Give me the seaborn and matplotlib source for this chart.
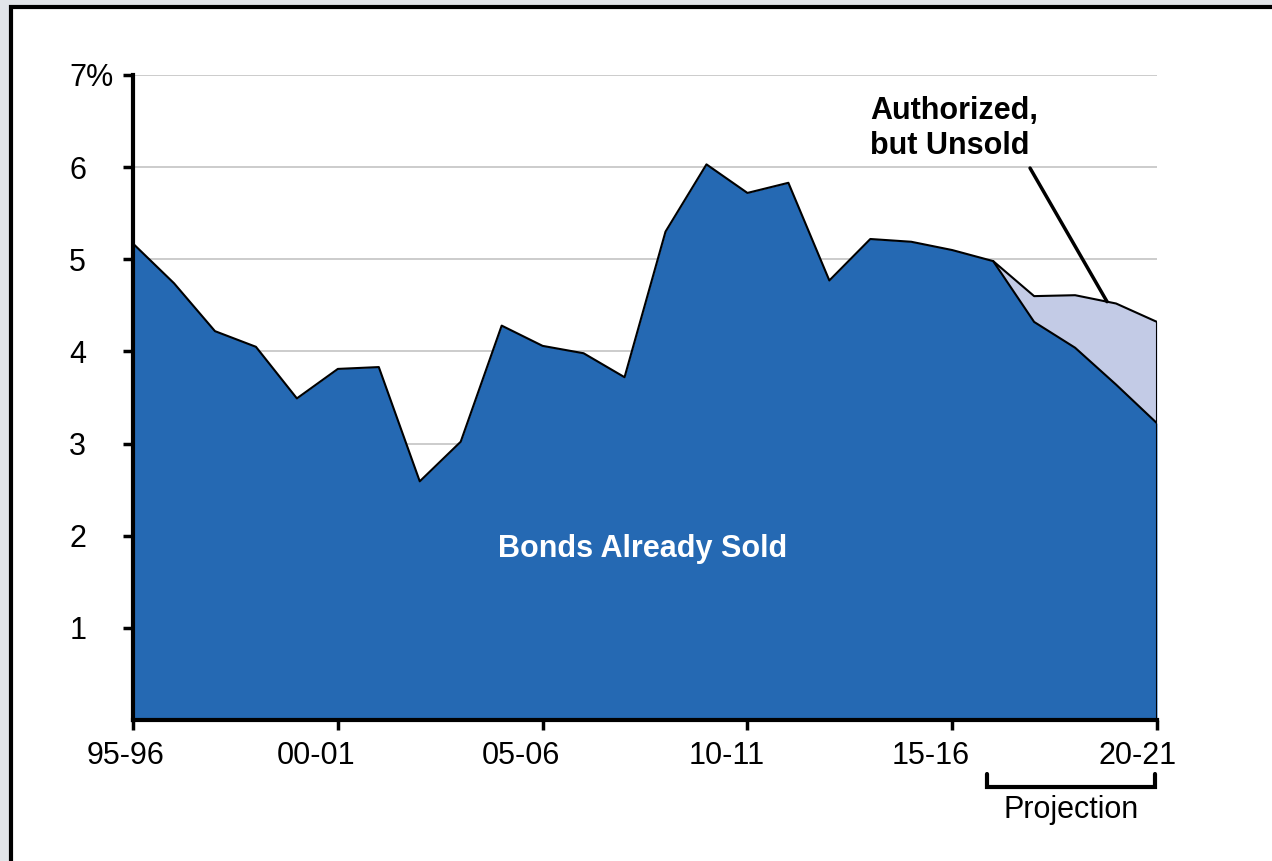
import numpy as np
import pandas as pd
import matplotlib
matplotlib.use("Agg")
import matplotlib.pyplot as plt
import matplotlib.transforms as mtrans
import seaborn as sns
from matplotlib.patches import Rectangle

# data (percent), fiscal years 95-96 .. 20-21
years = list(range(1995, 2021))
sold = [5.17, 4.74, 4.22, 4.05, 3.49, 3.81, 3.83, 2.59, 3.02, 4.28,
        4.06, 3.98, 3.72, 5.30, 6.03, 5.72, 5.83, 4.77, 5.22, 5.19,
        5.10, 4.98, 4.32, 4.04, 3.64, 3.22]
unsold = [0, 0, 0, 0, 0, 0, 0, 0, 0, 0,
          0, 0, 0, 0, 0, 0, 0, 0, 0, 0,
          0, 0, 0.28, 0.57, 0.88, 1.10]
tick_years = [1995, 2000, 2005, 2010, 2015, 2020]
tick_labels = ['95-96', '00-01', '05-06', '10-11', '15-16', '20-21']

df = pd.DataFrame({'Year': years, 'Sold': sold, 'Unsold': unsold})
df['Total'] = df['Sold'] + df['Unsold']
proj = df[df['Year'] >= 2016]

sns.set_style("white")
plt.rcParams['font.family'] = ['Liberation Sans', 'DejaVu Sans']
FS = 22

fig = plt.figure(figsize=(12.72, 8.61), dpi=100)
fig.patch.set_facecolor('#e2e5e9')
# white card with black frame
fig.patches.append(Rectangle((0.0085, -0.1), 1.2, 1.092, transform=fig.transFigure,
                             facecolor='white', edgecolor='black', linewidth=3, zorder=-10))

ax = fig.add_axes([0.1046, 0.1638, 0.805, 0.7491])
ax.set_facecolor('none')

# gridlines
for g in range(1, 8):
    ax.axhline(g, color='#c8c8c8', lw=1.3, zorder=0)

ax.fill_between(proj['Year'], proj['Sold'], proj['Total'], color='#c3cbe6', zorder=2, lw=0)
ax.fill_between(df['Year'], 0, df['Sold'], color='#2569b3', zorder=3, lw=0)
sns.lineplot(data=proj, x='Year', y='Total', color='black', lw=1.5, ax=ax, zorder=4)
sns.lineplot(data=df, x='Year', y='Sold', color='black', lw=1.5, ax=ax, zorder=4)
ax.plot([2020, 2020], [0, df['Total'].iloc[-1]], color='black', lw=1.5, zorder=4)

ax.set_xlim(1995, 2020)
ax.set_ylim(0, 7)
ax.set_xlabel('')
ax.set_ylabel('')
ax.set_xticks(tick_years)
ax.set_xticklabels(tick_labels)
ax.set_yticks(range(1, 8))
ax.set_yticklabels(['1', '2', '3', '4', '5', '6', '7%'])
ax.tick_params(axis='both', direction='out', length=7, width=2.5, color='black',
               labelcolor='black', labelsize=FS, left=True, bottom=True)
ax.tick_params(axis='x', pad=8)
ax.tick_params(axis='y', pad=39)
for s in ['top', 'right']:
    ax.spines[s].set_visible(False)
for s in ['left', 'bottom']:
    ax.spines[s].set_linewidth(3)
    ax.spines[s].set_color('black')
    ax.spines[s].set_zorder(5)

# y labels are left aligned, x labels sit a bit left of their ticks
for lab in ax.get_yticklabels():
    lab.set_horizontalalignment('left')
x_shift = [-7, -22, -22, -21, -22, -19]
for lab, dx in zip(ax.get_xticklabels(), x_shift):
    lab.set_transform(lab.get_transform() + mtrans.ScaledTranslation(dx / 100, 0, fig.dpi_scale_trans))

ax.text(2007.45, 1.86, 'Bonds Already Sold', color='white', fontsize=FS,
        fontweight='bold', ha='center', va='center', zorder=6)
ax.text(2012.99, 6.42, 'Authorized,\nbut Unsold', color='black', fontsize=FS,
        fontweight='bold', ha='left', va='center', linespacing=1.2, zorder=6)
ax.plot([2016.9, 2018.78], [5.99, 4.54], color='black', lw=2.5, zorder=6)

# projection bracket
bx0, bx1, by0, by1 = 2015.85, 2019.95, -0.59, -0.73
ax.plot([bx0, bx0, bx1, bx1], [by0, by1, by1, by0], color='black', lw=3,
        clip_on=False, solid_joinstyle='miter')
ax.text((bx0 + bx1) / 2, -0.98, 'Projection', fontsize=FS, color='black',
        ha='center', va='center')

fig.savefig('out.png', dpi=100, facecolor=fig.get_facecolor())
